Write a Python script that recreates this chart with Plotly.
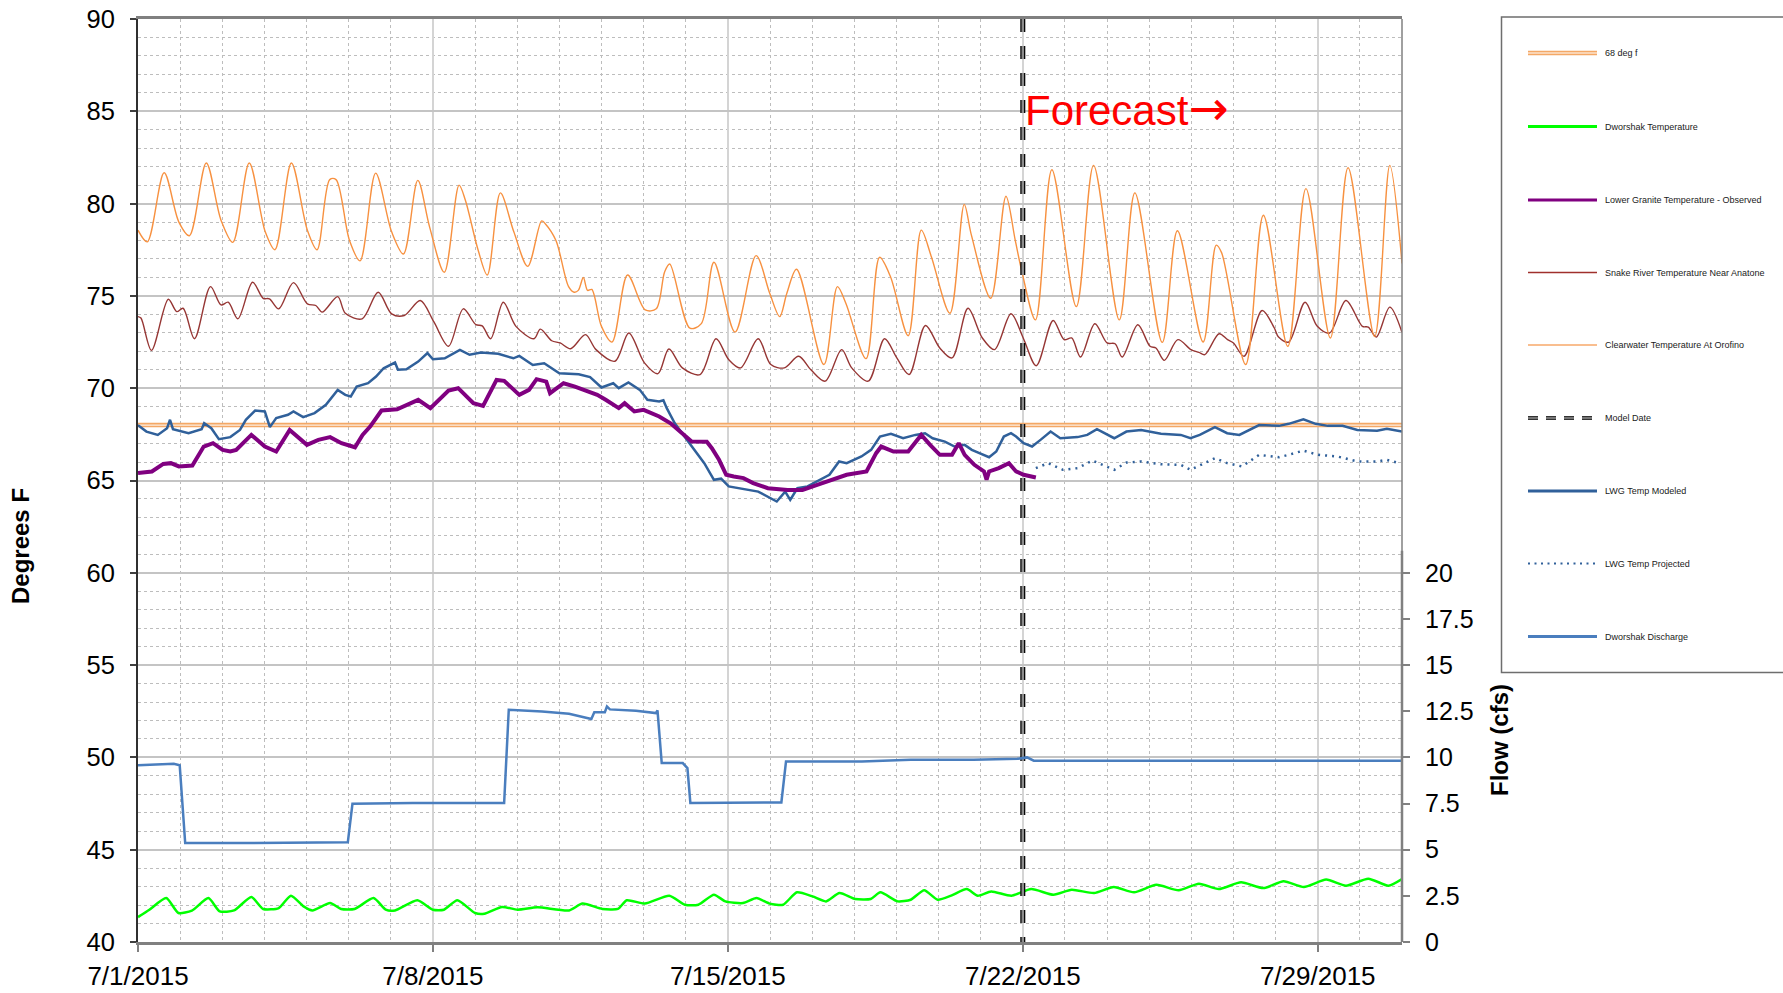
import pandas as pd
import plotly.graph_objects as go

START = pd.Timestamp("2015-07-01")

# ---------------- data (days since 7/1/2015 00:00, values) ----------------
x_tick_days = [0, 7, 14, 21, 28]
x_tick_labels = ["7/1/2015", "7/8/2015", "7/15/2015", "7/22/2015", "7/29/2015"]
y_tick_vals = [40, 45, 50, 55, 60, 65, 70, 75, 80, 85, 90]
y2_tick_vals = [0, 2.5, 5, 7.5, 10, 12.5, 15, 17.5, 20]
y2_tick_labels = ["0", "2.5", "5", "7.5", "10", "12.5", "15", "17.5", "20"]

threshold_days = [0, 30]
threshold_temp = [68, 68]

model_date_days = [21, 21]
model_date_temp = [90, 40]

cw_days = [0.00, 0.22, 0.62, 0.97, 1.22, 1.62, 1.97, 2.25, 2.64, 3.02, 3.25, 3.64, 4.02, 4.25,
           4.55, 4.70, 5.02, 5.27, 5.64, 6.02, 6.30, 6.64, 6.92, 7.27, 7.62, 7.77, 8.07, 8.29,
           8.60, 8.92, 9.25, 9.58, 9.67, 9.92, 10.22, 10.35, 10.45, 10.57, 10.67, 10.77, 11.00,
           11.25, 11.62, 12.04, 12.30, 12.50, 12.62, 13.10, 13.37, 13.67, 14.17, 14.67, 15.00,
           15.23, 15.40, 15.63, 16.28, 16.60, 16.80, 17.28, 17.60, 17.86, 18.28, 18.59, 18.83,
           19.27, 19.61, 19.78, 20.24, 20.60, 20.82, 20.98, 21.30, 21.69, 22.27, 22.68, 23.29,
           23.66, 24.31, 24.67, 25.28, 25.59, 25.72, 26.29, 26.71, 27.29, 27.72, 28.30, 28.72,
           29.35, 29.71, 30.00]
cw_temp = [78.56, 77.93, 81.67, 79.00, 78.26, 82.20, 79.10, 77.90, 82.20, 78.47, 77.50, 82.20,
           78.56, 77.50, 81.30, 81.30, 78.00, 76.90, 81.65, 78.47, 77.27, 81.26, 78.74, 76.28,
           81.00, 80.18, 77.50, 76.13, 80.58, 78.47, 76.60, 79.06, 78.90, 78.00, 75.50, 75.20,
           75.30, 76.00, 75.30, 75.35, 73.35, 72.50, 76.13, 74.24, 74.30, 76.31, 76.73, 73.25,
           73.50, 76.82, 73.04, 77.18, 75.10, 73.88, 75.14, 76.44, 71.28, 75.50, 74.60, 71.60,
           77.09, 76.04, 72.84, 78.56, 77.12, 74.06, 79.96, 78.29, 74.87, 80.40, 78.02, 76.30,
           73.70, 81.83, 74.42, 82.07, 73.70, 80.58, 72.48, 78.53, 72.50, 77.75, 77.33, 71.28,
           79.37, 72.27, 80.81, 72.72, 81.94, 72.80, 82.07, 76.76]

sr_days = [0.00, 0.07, 0.32, 0.72, 0.92, 1.07, 1.34, 1.72, 1.97, 2.14, 2.37, 2.72, 2.97, 3.12,
           3.34, 3.69, 4.02, 4.22, 4.37, 4.74, 4.92, 5.32, 5.70, 6.02, 6.32, 6.70, 7.02, 7.37,
           7.72, 8.02, 8.17, 8.37, 8.67, 8.97, 9.40, 9.55, 9.82, 10.02, 10.27, 10.62, 10.87,
           11.32, 11.65, 12.02, 12.34, 12.60, 12.92, 13.34, 13.72, 14.02, 14.30, 14.72, 15.02,
           15.34, 15.68, 15.97, 16.31, 16.70, 16.94, 17.33, 17.72, 18.01, 18.30, 18.69, 19.03,
           19.32, 19.70, 20.04, 20.33, 20.72, 21.01, 21.32, 21.72, 21.98, 22.16, 22.37, 22.71,
           23.00, 23.19, 23.36, 23.73, 24.02, 24.16, 24.36, 24.68, 24.99, 25.18, 25.32, 25.66,
           25.86, 26.00, 26.25, 26.68, 26.97, 27.07, 27.31, 27.70, 27.99, 28.28, 28.67, 29.06,
           29.20, 29.39, 29.71, 30.00]
sr_temp = [73.88, 73.80, 72.05, 74.82, 74.15, 74.33, 72.68, 75.50, 74.51, 74.66, 73.76, 75.74,
           74.87, 74.84, 74.30, 75.72, 74.57, 74.48, 74.12, 74.96, 74.06, 73.76, 75.20, 74.03,
           73.94, 74.75, 73.60, 72.27, 74.30, 73.44, 73.38, 72.68, 74.66, 73.35, 72.68, 73.20,
           72.57, 72.45, 72.14, 72.90, 72.09, 71.46, 72.99, 71.37, 70.79, 72.12, 71.10, 70.74,
           72.68, 71.55, 71.10, 72.68, 71.28, 71.10, 71.73, 71.00, 70.38, 72.09, 71.10, 70.38,
           72.68, 71.64, 70.74, 73.40, 72.18, 71.64, 74.33, 72.72, 72.09, 74.03, 72.72, 71.22,
           73.67, 72.63, 72.72, 71.69, 73.49, 72.45, 72.41, 71.69, 73.44, 72.27, 72.18, 71.51,
           72.63, 72.09, 71.94, 71.82, 72.95, 72.63, 72.45, 71.73, 74.21, 73.26, 72.77, 72.50,
           74.66, 73.35, 72.99, 74.75, 73.35, 73.31, 72.77, 74.39, 73.02]

lg_days = [0.00, 0.33, 0.60, 0.78, 0.97, 1.29, 1.56, 1.78, 2.01, 2.19, 2.33, 2.69, 3.01, 3.28,
           3.60, 4.01, 4.28, 4.56, 4.83, 5.15, 5.33, 5.51, 5.78, 6.15, 6.65, 6.94, 7.37, 7.60,
           7.96, 8.19, 8.51, 8.69, 9.05, 9.28, 9.46, 9.69, 9.78, 10.10, 10.37, 10.60, 10.90,
           11.10, 11.41, 11.55, 11.78, 12.00, 12.37, 12.64, 12.91, 13.14, 13.50, 13.62, 13.79,
           13.96, 14.14, 14.37, 14.60, 14.95, 15.42, 15.77, 16.12, 16.47, 16.82, 17.29, 17.52,
           17.64, 17.93, 18.28, 18.59, 18.80, 19.03, 19.32, 19.48, 19.62, 19.85, 20.08, 20.14,
           20.20, 20.43, 20.67, 20.84, 21.02, 21.31]
lg_temp = [65.40, 65.49, 65.90, 65.94, 65.76, 65.81, 66.84, 67.02, 66.66, 66.57, 66.66, 67.47,
           66.84, 66.57, 67.74, 66.93, 67.20, 67.35, 67.02, 66.80, 67.47, 67.92, 68.79, 68.86,
           69.37, 68.92, 69.87, 70.00, 69.19, 69.04, 70.45, 70.40, 69.64, 69.91, 70.49, 70.36,
           69.73, 70.27, 70.09, 69.91, 69.64, 69.37, 68.92, 69.19, 68.74, 68.83, 68.47, 68.10,
           67.60, 67.11, 67.10, 66.75, 66.12, 65.31, 65.22, 65.13, 64.86, 64.58, 64.49, 64.49,
           64.76, 65.04, 65.31, 65.49, 66.48, 66.84, 66.57, 66.57, 67.47, 66.93, 66.39, 66.39,
           67.02, 66.39, 65.85, 65.49, 65.04, 65.49, 65.67, 65.94, 65.49, 65.31, 65.16]

mo_days = [0.00, 0.20, 0.47, 0.69, 0.76, 0.83, 1.20, 1.51, 1.57, 1.74, 1.92, 2.19, 2.42, 2.56,
           2.78, 3.01, 3.13, 3.28, 3.56, 3.69, 3.92, 4.19, 4.46, 4.74, 4.92, 5.05, 5.19, 5.46,
           5.65, 5.83, 6.10, 6.17, 6.37, 6.65, 6.87, 7.00, 7.28, 7.64, 7.87, 8.14, 8.55, 8.91,
           9.05, 9.37, 9.64, 10.00, 10.46, 10.73, 11.00, 11.28, 11.41, 11.64, 11.91, 12.09,
           12.37, 12.47, 12.55, 12.74, 12.97, 13.21, 13.44, 13.67, 13.84, 14.02, 14.49, 14.72,
           15.16, 15.36, 15.48, 15.65, 15.89, 16.18, 16.41, 16.64, 16.82, 17.17, 17.40, 17.61,
           17.87, 18.16, 18.45, 18.68, 18.86, 19.15, 19.38, 19.62, 19.79, 19.97, 20.20, 20.37,
           20.55, 20.72, 20.84, 21.02, 21.22, 21.42, 21.66, 21.89, 22.30, 22.53, 22.76, 23.17,
           23.46, 23.81, 24.28, 24.75, 24.98, 25.20, 25.56, 25.85, 26.14, 26.61, 27.08, 27.31,
           27.66, 27.95, 28.24, 28.59, 28.94, 29.41, 29.64, 30.00]
mo_temp = [68.00, 67.65, 67.47, 67.83, 68.29, 67.78, 67.56, 67.78, 68.10, 67.83, 67.24, 67.35,
           67.74, 68.29, 68.79, 68.74, 67.89, 68.38, 68.56, 68.74, 68.43, 68.65, 69.10, 69.91,
           69.64, 69.55, 70.09, 70.27, 70.63, 71.08, 71.39, 71.00, 71.03, 71.44, 71.90, 71.57,
           71.62, 72.08, 71.81, 71.93, 71.86, 71.62, 71.75, 71.26, 71.35, 70.81, 70.76, 70.60,
           70.04, 70.27, 70.00, 70.31, 69.91, 69.37, 69.28, 69.35, 68.92, 68.10, 67.38, 66.66,
           65.94, 65.04, 65.10, 64.68, 64.49, 64.40, 63.86, 64.40, 63.95, 64.58, 64.68, 65.04,
           65.31, 66.03, 65.94, 66.30, 66.66, 67.38, 67.53, 67.29, 67.47, 67.56, 67.29, 67.11,
           66.84, 66.93, 66.66, 66.48, 66.26, 66.57, 67.38, 67.56, 67.38, 67.02, 66.84, 67.20,
           67.65, 67.29, 67.35, 67.47, 67.78, 67.29, 67.65, 67.74, 67.53, 67.47, 67.29, 67.47,
           67.89, 67.56, 67.47, 68.00, 67.96, 68.07, 68.32, 68.07, 67.96, 67.96, 67.74, 67.69,
           67.80, 67.65]

pj_days = [21.31, 21.60, 21.95, 22.30, 22.65, 22.88, 23.17, 23.46, 23.81, 24.28, 24.75, 24.98,
           25.56, 25.85, 26.20, 26.61, 27.08, 27.31, 27.66, 28.01, 28.47, 28.94, 29.41, 29.64,
           29.93]
pj_temp = [65.67, 65.94, 65.58, 65.67, 66.08, 65.85, 65.58, 65.97, 66.03, 65.88, 65.85, 65.58,
           66.21, 65.94, 65.76, 66.39, 66.26, 66.39, 66.62, 66.39, 66.30, 66.03, 66.03, 66.12,
           65.94]

dt_days = [0.00, 0.27, 0.67, 0.96, 1.28, 1.67, 1.94, 2.28, 2.69, 2.97, 3.34, 3.63, 3.93, 4.14,
           4.56, 4.82, 5.14, 5.59, 5.88, 6.10, 6.63, 7.00, 7.26, 7.58, 8.00, 8.22, 8.64, 9.01,
           9.48, 10.23, 10.55, 11.02, 11.39, 11.60, 12.03, 12.61, 12.98, 13.30, 13.67, 13.94,
           14.36, 14.68, 14.99, 15.31, 15.64, 16.01, 16.33, 16.65, 17.02, 17.39, 17.62, 18.03,
           18.34, 18.66, 18.98, 19.30, 19.67, 19.93, 20.25, 20.73, 21.20, 21.73, 22.16, 22.69,
           23.16, 23.64, 24.17, 24.70, 25.18, 25.65, 26.18, 26.71, 27.19, 27.67, 28.20, 28.67,
           29.20, 29.68, 30.00]
dt_temp = [41.35, 41.75, 42.38, 41.57, 41.70, 42.38, 41.66, 41.71, 42.44, 41.79, 41.84, 42.51,
           41.93, 41.71, 42.11, 41.79, 41.79, 42.38, 41.75, 41.71, 42.26, 41.75, 41.75, 42.26,
           41.57, 41.53, 41.90, 41.75, 41.88, 41.71, 42.08, 41.79, 41.79, 42.26, 42.08, 42.51,
           42.02, 42.02, 42.56, 42.20, 42.11, 42.38, 42.08, 42.02, 42.69, 42.47, 42.20, 42.65,
           42.33, 42.33, 42.69, 42.20, 42.29, 42.80, 42.29, 42.51, 42.87, 42.51, 42.74, 42.51,
           42.87, 42.56, 42.83, 42.65, 42.98, 42.69, 43.10, 42.80, 43.16, 42.87, 43.23, 42.92,
           43.29, 42.98, 43.38, 43.05, 43.43, 43.05, 43.41]

dq_days = [0.00, 0.50, 0.85, 0.99, 1.12, 2.28, 3.50, 4.98, 5.09, 6.52, 8.69, 8.80, 9.59, 10.23,
           10.76, 10.83, 11.08, 11.13, 11.20, 11.82, 12.29, 12.33, 12.43, 12.93, 13.04, 13.11,
           15.27, 15.38, 17.18, 18.34, 19.83, 20.89, 21.10, 21.26, 30.00]
dq_flow = [9.57, 9.62, 9.66, 9.57, 5.36, 5.36, 5.38, 5.40, 7.49, 7.53, 7.53, 12.58, 12.49, 12.36,
           12.08, 12.45, 12.45, 12.76, 12.60, 12.53, 12.40, 12.55, 9.69, 9.69, 9.42, 7.53,
           7.56, 9.78, 9.78, 9.87, 9.87, 9.93, 10.00, 9.82, 9.82]

legend_labels = ["68 deg f", "Dworshak Temperature", "Lower Granite Temperature - Observed",
                 "Snake River Temperature Near Anatone", "Clearwater Temperature At Orofino",
                 "Model Date", "LWG Temp Modeled", "LWG Temp Projected", "Dworshak Discharge"]


def to_dates(days):
    return [START + pd.Timedelta(days=d) for d in days]


# ---------------- styles ----------------
FONT = "Liberation Sans, Arial, sans-serif"
C_THRESH = "#F4A866"
C_GREEN = "#00FF00"
C_PURPLE = "#800080"
C_SNAKE = "#963634"
C_CLEAR = "#F79140"
C_MODEL = "#30609A"
C_DISCH = "#4A7EBE"
GRAY = "#808080"

fig = go.Figure()

fig.add_trace(go.Scatter(x=to_dates(threshold_days), y=threshold_temp, mode="lines",
                         line=dict(color=C_THRESH, width=4.5), hoverinfo="skip"))
fig.add_trace(go.Scatter(x=to_dates(threshold_days), y=threshold_temp, mode="lines",
                         line=dict(color="white", width=1), hoverinfo="skip"))
fig.add_trace(go.Scatter(x=to_dates(dt_days), y=dt_temp, mode="lines",
                         line=dict(color=C_GREEN, width=2.5, shape="spline", smoothing=0.6)))
fig.add_trace(go.Scatter(x=to_dates(sr_days), y=sr_temp, mode="lines",
                         line=dict(color=C_SNAKE, width=1.4, shape="spline", smoothing=0.9)))
fig.add_trace(go.Scatter(x=to_dates(cw_days), y=cw_temp, mode="lines",
                         line=dict(color=C_CLEAR, width=1.4, shape="spline", smoothing=0.9)))
fig.add_trace(go.Scatter(x=to_dates(mo_days), y=mo_temp, mode="lines",
                         line=dict(color=C_MODEL, width=2.5)))
fig.add_trace(go.Scatter(x=to_dates(lg_days), y=lg_temp, mode="lines",
                         line=dict(color=C_PURPLE, width=4)))
fig.add_trace(go.Scatter(x=to_dates(pj_days), y=pj_temp, mode="lines",
                         line=dict(color=C_MODEL, width=2.5, dash="2px,5px")))
fig.add_trace(go.Scatter(x=to_dates(dq_days), y=dq_flow, mode="lines", yaxis="y2",
                         line=dict(color=C_DISCH, width=2.5)))
fig.add_trace(go.Scatter(x=to_dates(model_date_days), y=model_date_temp, mode="lines",
                         line=dict(color="black", width=5, dash="13px,14px")))
fig.add_trace(go.Scatter(x=to_dates(model_date_days), y=model_date_temp, mode="lines",
                         line=dict(color="#8C8C8C", width=2.5, dash="13px,14px")))

fig.update_traces(showlegend=False)

# ---------------- custom legend ----------------
PLOT_L, PLOT_R, PLOT_T, PLOT_B = 138, 1402, 19, 942


def px_x(px):
    return (px - PLOT_L) / (PLOT_R - PLOT_L)


def px_y(py):
    return (PLOT_B - py) / (PLOT_B - PLOT_T)


shapes = []
annotations = []

shapes.append(dict(type="rect", xref="paper", yref="paper", x0=px_x(1501.5), x1=px_x(1800),
                   y0=px_y(672.5), y1=px_y(17), line=dict(color="#6E6E6E", width=1.5),
                   fillcolor="white", layer="below"))

row_y = [53, 126.5, 200, 272.5, 345, 418, 491, 563.5, 636.5]
legend_styles = [
    [dict(color=C_THRESH, width=4.5), dict(color="white", width=1.2)],
    [dict(color=C_GREEN, width=3)],
    [dict(color=C_PURPLE, width=3)],
    [dict(color="#A0302C", width=1.5)],
    [dict(color="#F7A86A", width=1.6)],
    [dict(color="#333333", width=4, dash="10px,8px"), dict(color="#8C8C8C", width=1.5, dash="10px,8px")],
    [dict(color=C_MODEL, width=3)],
    [dict(color=C_MODEL, width=2, dash="2px,4.5px")],
    [dict(color=C_DISCH, width=3)],
]
for label, py, styles in zip(legend_labels, row_y, legend_styles):
    for st in styles:
        shapes.append(dict(type="line", xref="paper", yref="paper", x0=px_x(1528), x1=px_x(1597),
                           y0=px_y(py), y1=px_y(py), line=st))
    annotations.append(dict(xref="paper", yref="paper", x=px_x(1603), y=px_y(py), text=label,
                            showarrow=False, xanchor="left", yanchor="middle",
                            font=dict(family=FONT, size=9, color="#1A1A1A")))

# right border + flow axis line
shapes.append(dict(type="line", xref="paper", yref="paper", x0=1, x1=1, y0=0, y1=1,
                   line=dict(color=GRAY, width=1.5)))
shapes.append(dict(type="line", xref="paper", yref="y2", x0=1, x1=1, y0=0, y1=21.2,
                   line=dict(color=GRAY, width=2.5)))

annotations.append(dict(xref="x", yref="y", x=to_dates([21])[0], y=85.2,
                        text="Forecast<span style=\"font-family:'DejaVu Sans';font-size:48px\">→</span>",
                        showarrow=False, xanchor="left", yanchor="middle", xshift=0,
                        font=dict(family=FONT, size=42, color="#FF0000")))
annotations.append(dict(xref="paper", yref="paper", x=px_x(20), y=px_y(546), text="<b>Degrees F</b>",
                        showarrow=False, textangle=-90, xanchor="center", yanchor="middle",
                        font=dict(family=FONT, size=24, color="black")))
annotations.append(dict(xref="paper", yref="paper", x=px_x(1499), y=px_y(740), text="<b>Flow (cfs)</b>",
                        showarrow=False, textangle=-90, xanchor="center", yanchor="middle",
                        font=dict(family=FONT, size=24, color="black")))

fig.update_layout(
    width=1783, height=993,
    margin=dict(l=PLOT_L, r=1783 - PLOT_R, t=PLOT_T, b=993 - PLOT_B, pad=0, autoexpand=False),
    paper_bgcolor="white", plot_bgcolor="white",
    showlegend=False,
    font=dict(family=FONT, color="black"),
    shapes=shapes, annotations=annotations,
    xaxis=dict(
        type="date", range=[START, START + pd.Timedelta(days=30)], automargin=False,
        tickmode="array", tickvals=to_dates(x_tick_days), ticktext=x_tick_labels,
        tickfont=dict(family=FONT, size=26, color="black"),
        ticks="outside", ticklen=7, tickwidth=1.5, tickcolor=GRAY, ticklabelstandoff=2,
        showline=True, linecolor=GRAY, linewidth=2.5, mirror=True,
        showgrid=True, gridcolor="#D4D4D4", gridwidth=2, zeroline=False,
        minor=dict(tickmode="linear", tick0=START, dtick=86400000, showgrid=True,
                   gridcolor="#BDBDBD", griddash="dot", gridwidth=1, ticks=""),
    ),
    yaxis=dict(
        range=[40, 90], tickmode="array", tickvals=y_tick_vals, automargin=False,
        tickfont=dict(family=FONT, size=25.5, color="black"),
        ticks="outside", ticklen=6, tickwidth=1.5, tickcolor="#404040", ticklabelstandoff=10,
        showline=True, linecolor="#303030", linewidth=2,
        showgrid=True, gridcolor="#C4C4C4", gridwidth=1.5, zeroline=False,
        minor=dict(tickmode="linear", tick0=40, dtick=1, showgrid=True,
                   gridcolor="#BDBDBD", griddash="dot", gridwidth=1, ticks=""),
    ),
    yaxis2=dict(
        overlaying="y", side="right", anchor="x", range=[0, 50], automargin=False,
        tickmode="array", tickvals=y2_tick_vals, ticktext=y2_tick_labels,
        tickfont=dict(family=FONT, size=25, color="black"),
        ticks="outside", ticklen=7, tickwidth=1.5, tickcolor=GRAY, ticklabelstandoff=10,
        showline=False, showgrid=False, zeroline=False,
    ),
)

fig.write_html("out.html", config={"displayModeBar": False},
               post_script="document.body.style.margin='0';document.body.style.overflow='hidden';")
